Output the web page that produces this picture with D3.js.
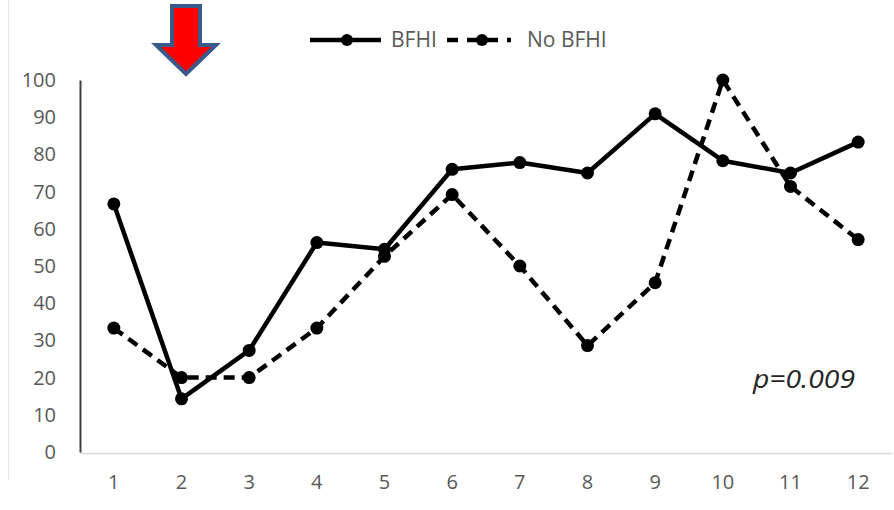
<!DOCTYPE html>
<html><head><meta charset="utf-8">
<script src="https://cdn.jsdelivr.net/npm/d3@7"></script>
<style>body{margin:0;background:#fff}svg{display:block}</style>
</head><body>
<script>
const categories = ["1","2","3","4","5","6","7","8","9","10","11","12"];
const bfhi   = [66.7, 14.3, 27.3, 56.3, 54.5, 76.0, 77.8, 75.0, 90.9, 78.3, 75.0, 83.3];
const noBfhi = [33.3, 20.0, 20.0, 33.3, 52.6, 69.2, 50.0, 28.6, 45.5, 100, 71.4, 57.1];
const yTicks = [0,10,20,30,40,50,60,70,80,90,100];
const seriesNames = ["BFHI", "No BFHI"];
const pText = "p=0.009";

const W = 894, H = 510;
const svg = d3.select("body").append("svg").attr("width", W).attr("height", H);
const mLeft = 80, mRight = 892, mTop = 80, mBottom = 452;

const x = d3.scaleBand().domain(categories).range([mLeft, mRight]);
const y = d3.scaleLinear().domain([0, 100]).range([mBottom, mTop]);

// faint outer frame
svg.append("line").attr("x1", 8.5).attr("x2", 8.5).attr("y1", 0).attr("y2", 480)
  .attr("stroke", "#e4e4e4").attr("stroke-width", 1);

// x axis
const xa = svg.append("g").attr("transform", `translate(0,${mBottom + 1})`)
  .call(d3.axisBottom(x).tickSize(0).tickPadding(22));
xa.select(".domain").attr("stroke", "#d9d9d9").attr("stroke-width", 1.5);
xa.selectAll("text").attr("fill", "#595959").attr("font-family", "Open Sans")
  .attr("font-size", 20);

// y axis
const ya = svg.append("g").attr("transform", `translate(${mLeft},0)`)
  .call(d3.axisLeft(y).tickValues(yTicks).tickSize(0).tickPadding(24));
ya.select(".domain").attr("stroke", "#404040").attr("stroke-width", 2);
ya.selectAll("text").attr("fill", "#595959").attr("font-family", "Open Sans")
  .attr("font-size", 20);

const cx = (d, i) => x(categories[i]) + x.bandwidth() / 2;
const line = d3.line().x(cx).y(d => y(d));

function drawSeries(vals, dashed) {
  svg.append("path").datum(vals).attr("d", line).attr("fill", "none")
    .attr("stroke", "#000").attr("stroke-width", 4.5)
    .attr("stroke-dasharray", dashed ? "11,7" : null)
    .attr("stroke-linejoin", "round");
  svg.append("g").selectAll("circle").data(vals).join("circle")
    .attr("cx", cx).attr("cy", d => y(d)).attr("r", 6.5).attr("fill", "#000");
}
drawSeries(noBfhi, true);
drawSeries(bfhi, false);

// legend
const lg = svg.append("g");
const ly = 40;
lg.append("line").attr("x1", 310).attr("x2", 381).attr("y1", ly).attr("y2", ly)
  .attr("stroke", "#000").attr("stroke-width", 4.5);
lg.append("circle").attr("cx", 347).attr("cy", ly).attr("r", 6).attr("fill", "#000");
lg.append("text").attr("x", 391).attr("y", ly + 7).text(seriesNames[0]);
lg.append("line").attr("x1", 447).attr("x2", 511).attr("y1", ly).attr("y2", ly)
  .attr("stroke", "#000").attr("stroke-width", 4.5).attr("stroke-dasharray", "11,9");
lg.append("circle").attr("cx", 482).attr("cy", ly).attr("r", 6).attr("fill", "#000");
lg.append("text").attr("x", 527).attr("y", ly + 7).text(seriesNames[1]);
lg.selectAll("text").attr("fill", "#595959").attr("font-family", "Open Sans").attr("font-size", 21);

// p value
svg.append("text").attr("x", 753).attr("y", 388).text(pText)
  .attr("font-family", "Open Sans").attr("font-style", "italic").attr("font-size", 25)
  .attr("fill", "#262626").attr("textLength", 102).attr("lengthAdjust", "spacingAndGlyphs");

// arrow
const arrow = d3.path();
arrow.moveTo(172, 6); arrow.lineTo(200, 6); arrow.lineTo(200, 45); arrow.lineTo(216, 45);
arrow.lineTo(186, 74); arrow.lineTo(156, 45); arrow.lineTo(172, 45); arrow.closePath();
svg.append("path").attr("d", arrow.toString()).attr("fill", "#ff0000")
  .attr("stroke", "#3a5a8c").attr("stroke-width", 4).attr("stroke-linejoin", "miter");
</script>
</body></html>
